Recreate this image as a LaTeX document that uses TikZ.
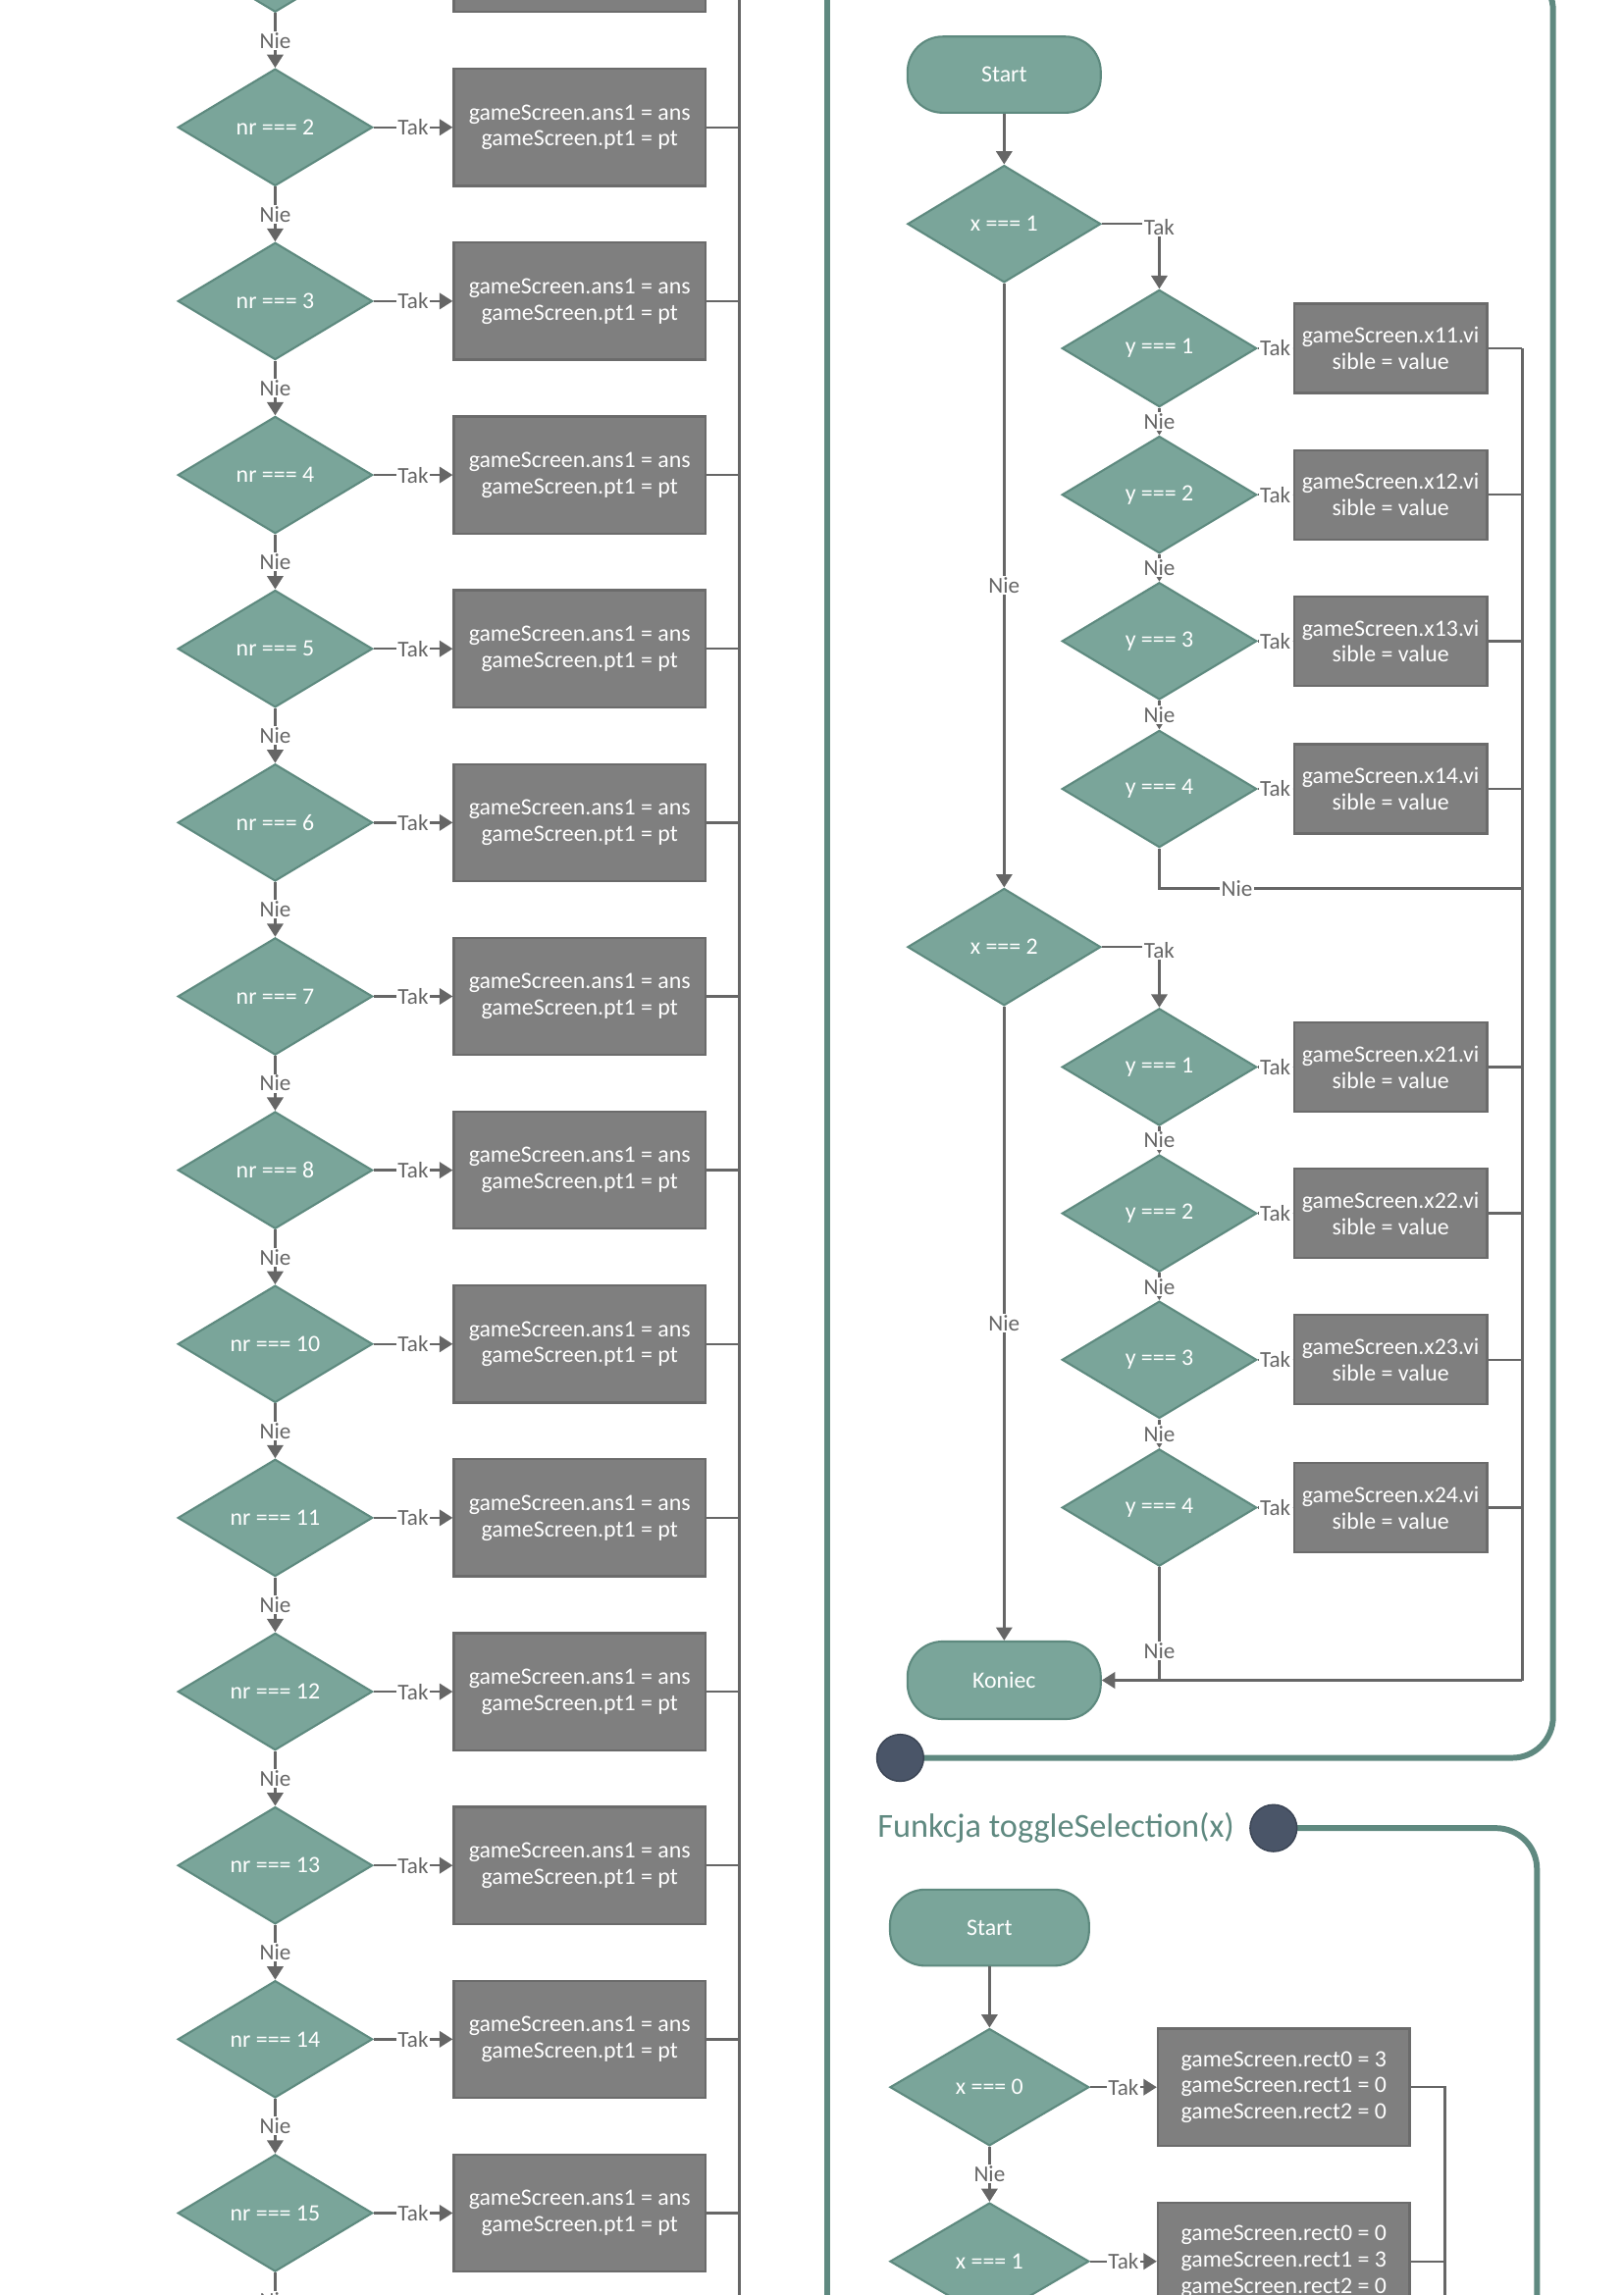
\documentclass[tikz,border=0pt]{standalone}
\usepackage{fontspec}
\setmainfont{Carlito}
\usetikzlibrary{shapes.geometric,arrows.meta,calc}
\definecolor{tealfill}{HTML}{7AA59A}
\definecolor{tealline}{HTML}{5E8A7F}
\definecolor{framec}{HTML}{5F8980}
\definecolor{boxfill}{HTML}{7F7F7F}
\definecolor{boxline}{HTML}{6B6B6B}
\definecolor{wirec}{HTML}{666666}
\definecolor{dotc}{HTML}{4A5568}
\definecolor{dotline}{HTML}{3B4555}

\begin{document}
\begin{tikzpicture}[x=1pt,y=-1pt,
  every node/.style={font=\fontsize{16}{18}\selectfont},
  cond/.style={diamond, draw=tealline, fill=tealfill, line width=1.4pt,
    minimum width=133pt, minimum height=80pt, inner sep=0pt, aspect=1.66, text=white},
  action/.style={rectangle, draw=boxline, fill=boxfill, line width=1.5pt,
    minimum width=172pt, minimum height=80pt, inner sep=2pt, align=center, text=white},
  terminal/.style={rectangle, rounded corners=24pt, draw=tealline, fill=tealfill,
    line width=1.4pt, minimum width=132pt, minimum height=52pt, text=white},
  wire/.style={draw=wirec, line width=1.6pt},
  flow/.style={wire, -{Triangle[length=9pt,width=11pt]}},
  lbl/.style={fill=white, text=wirec, inner sep=1pt, font=\fontsize{15.5}{17}\selectfont},
  frame/.style={draw=framec, line width=4pt},
  dot/.style={circle, fill=dotc, draw=dotline, line width=1pt, minimum size=32pt, inner sep=0pt},
]
\useasboundingbox (0,0) rectangle (1109,1568);
\clip (0,0) rectangle (1109,1568);

% ---------- container frames ----------
\coordinate (c1) at (615,1201);
\coordinate (c2) at (870,1249);
\draw[frame] (565,-20) -- (565,1600);
\draw[frame, rounded corners=28pt] (900,-21) -- (1061,-21) -- (1061,1201) -- (c1);
\draw[frame, rounded corners=28pt] (c2) -- (1050,1249) -- (1050,1600);
\node[dot] (c1dot) at (c1) {};
\node[dot] (c2dot) at (c2) {};
\node[anchor=west, text=framec, font=\fontsize{23}{27}\selectfont] (title2) at (596,1249) {Funkcja toggleSelection(x)};

% ---------- left column: nr checks ----------
\coordinate (busTop) at (505,-20);
\coordinate (busBot) at (505,1600);
\draw[wire] (busTop) -- (busBot);
\node[cond] (d0) at (188,-31.75) {};
\node[action] (b0) at (396,-31.75) {};
\foreach \k/\n in {1/2,2/3,3/4,4/5,5/6,6/7,7/8,8/10,9/11,10/12,11/13,12/14,13/15} {
  \node[cond] (d\k) at (188,{-31.75+118.75*\k}) {nr === \n};
  \node[action] (b\k) at (396,{-31.75+118.75*\k}) {gameScreen.ans1 = ans\\gameScreen.pt1 = pt};
}
\draw[flow] (d0.east) -- (b0.west);
\draw[wire] (b0.east) -- (b0.east -| busTop);
\foreach \k in {1,...,13} {
  \draw[flow] (d\k.east) -- node[lbl] {Tak} (b\k.west);
  \draw[wire] (b\k.east) -- (b\k.east -| busTop);
}
\foreach \k [evaluate=\k as \j using int(\k+1)] in {0,...,12} {
  \draw[flow] (d\k.south) -- node[lbl] {Nie} (d\j.north);
}
\coordinate (dEnd) at (188,1600);
\draw[wire] (d13.south) -- node[lbl, pos=0.4] {Nie} (dEnd);

% ---------- first function: x / y checks ----------
\node[terminal] (s1) at (686,51) {Start};
\node[cond, minimum width=132pt] (x1) at (686,153) {x === 1};
\node[cond, minimum width=132pt] (x2) at (686,647) {x === 2};
\node[terminal, minimum height=53pt] (kon) at (686,1148) {Koniec};
\foreach \i/\y in {1/238,2/338,3/438,4/539} {
  \node[cond] (ya\i) at (792,\y) {y === \i};
  \node[action, minimum width=132pt, minimum height=61pt] (va\i) at (950,\y) {gameScreen.x1\i.vi\\sible = value};
}
\foreach \i/\y in {1/729,2/829,3/929,4/1030} {
  \node[cond] (yb\i) at (792,\y) {y === \i};
  \node[action, minimum width=132pt, minimum height=61pt] (vb\i) at (950,\y) {gameScreen.x2\i.vi\\sible = value};
}
\coordinate (rb) at (1040,1148);
\coordinate (na) at (1040,607);

\draw[flow] (s1) -- (x1);
\draw[flow] (x1.east) -| node[lbl, pos=0.5, yshift=-2pt] {Tak} (ya1.north);
\draw[flow] (x2.east) -| node[lbl, pos=0.5, yshift=-2pt] {Tak} (yb1.north);
\draw[flow] (x1.south) -- node[lbl] {Nie} (x2.north);
\draw[flow] (x2.south) -- node[lbl] {Nie} (kon.north);
\foreach \i in {1,...,4} {
  \draw[flow] (ya\i.east) -- node[lbl] {Tak} (va\i.west);
  \draw[flow] (yb\i.east) -- node[lbl] {Tak} (vb\i.west);
  \draw[wire] (va\i.east) -- (va\i.east -| rb);
  \draw[wire] (vb\i.east) -- (vb\i.east -| rb);
}
\foreach \i [evaluate=\i as \j using int(\i+1)] in {1,2,3} {
  \draw[flow] (ya\i.south) -- node[lbl] {Nie} (ya\j.north);
  \draw[flow] (yb\i.south) -- node[lbl] {Nie} (yb\j.north);
}
\draw[wire] (ya4.south) |- node[lbl, pos=0.607] {Nie} (na);
\draw[wire] (va1.east -| rb) -- (rb);
\draw[wire] (yb4.south) -- node[lbl, pos=0.74] {Nie} (yb4.south |- rb);
\draw[flow] (rb) -- (kon.east);

% ---------- second function: toggleSelection ----------
\node[terminal, minimum width=136pt] (s2) at (676,1317) {Start};
\node[cond, minimum width=136pt] (z0) at (676,1426) {x === 0};
\node[cond, minimum width=136pt] (z1) at (676,1545) {x === 1};
\node[action] (r0) at (877,1426) {gameScreen.rect0 = 3\\gameScreen.rect1 = 0\\gameScreen.rect2 = 0};
\node[action] (r1) at (877,1545) {gameScreen.rect0 = 0\\gameScreen.rect1 = 3\\gameScreen.rect2 = 0};
\coordinate (sb) at (987,1600);
\draw[flow] (s2) -- (z0);
\draw[flow] (z0.east) -- node[lbl] {Tak} (r0.west);
\draw[flow] (z1.east) -- node[lbl] {Tak} (r1.west);
\draw[flow] (z0.south) -- node[lbl] {Nie} (z1.north);
\draw[wire] (r0.east) -- (r0.east -| sb) -- (sb);
\draw[wire] (r1.east) -- (r1.east -| sb);
\end{tikzpicture}
\end{document}
